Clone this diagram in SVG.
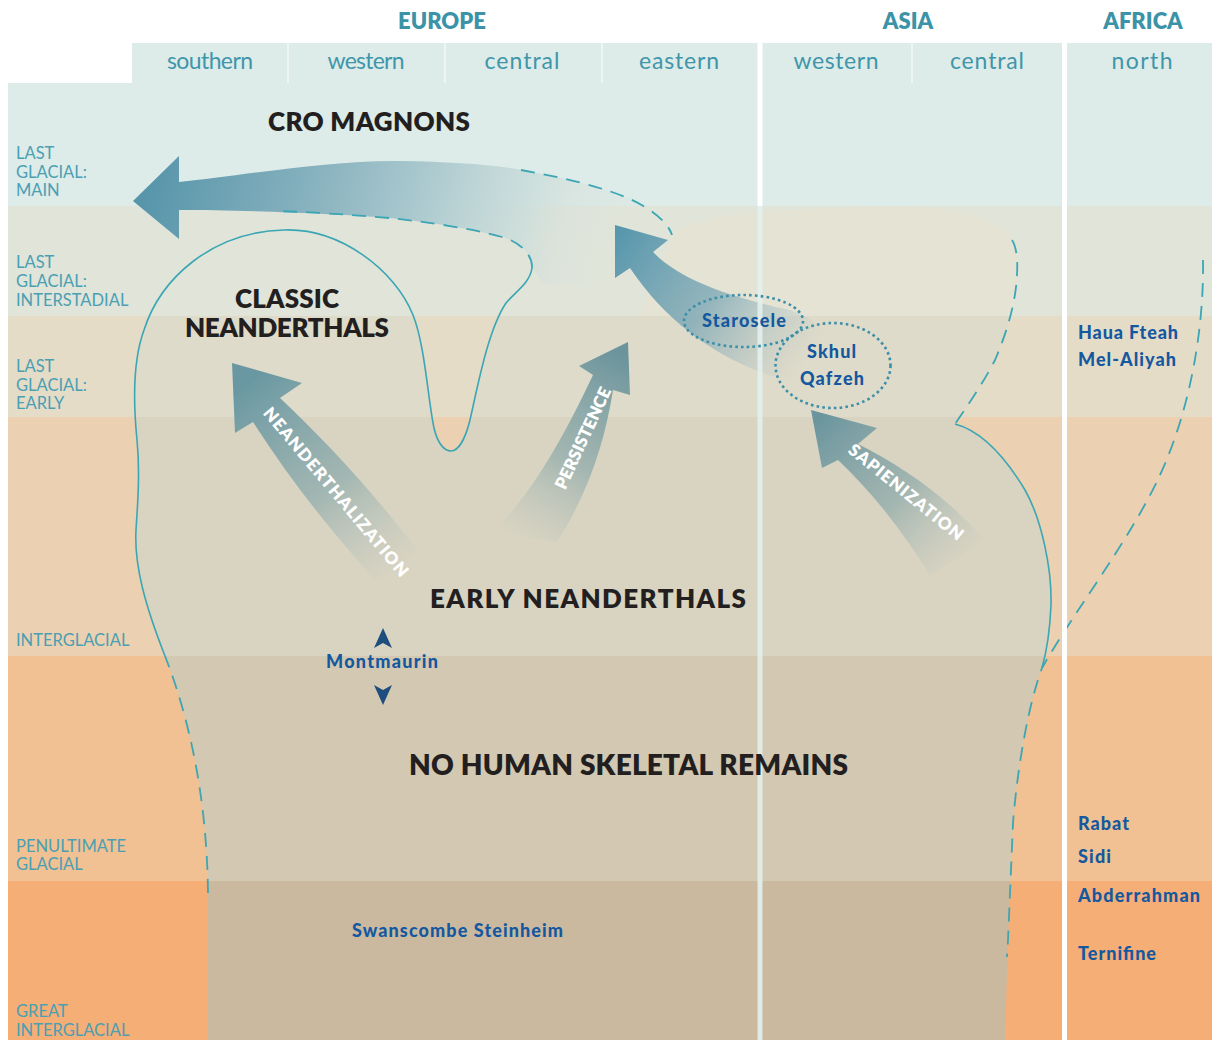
<svg xmlns="http://www.w3.org/2000/svg" width="1212" height="1040" viewBox="0 0 1212 1040">
<style>
 .hdr{font-family:Lato,'Open Sans','DejaVu Sans',sans-serif;font-weight:800;font-size:22px;fill:#3c93a8;text-anchor:middle}
 .sub{font-family:Lato,'Open Sans','DejaVu Sans',sans-serif;font-size:23px;fill:#3f96aa;text-anchor:middle}
 .per{font-family:Lato,'Open Sans','DejaVu Sans',sans-serif;font-size:16.5px;fill:#4a9fb3}
 .big{font-family:Lato,'Open Sans','DejaVu Sans',sans-serif;font-weight:800;font-size:26px;fill:#231f20;text-anchor:middle}
 .site{font-family:Lato,'Open Sans','DejaVu Sans',sans-serif;font-weight:900;font-size:18px;fill:#14589f}
 .mid{text-anchor:middle}
 .arr{font-family:Lato,'Open Sans','DejaVu Sans',sans-serif;font-weight:800;font-size:17px;fill:#ffffff;text-anchor:middle}
 .sol{fill:none;stroke:#3ba6b4;stroke-width:1.6}
 .dash{fill:none;stroke:#3ba6b4;stroke-width:1.8;stroke-dasharray:14 9}
 .dot{fill:none;stroke:#3b8fa8;stroke-width:2.6;stroke-dasharray:2.6 3.2}
 .tri{fill:#1d4e7e}
</style>
<defs>
 <clipPath id="blobClip">
  <path id="blobPath" d="M208,1040 L208,893 C207,800 190,720 165,656 C145,605 134,565 136,530 C138,500 140,470 137,440 C133,400 133,360 144,330 C160,280 210,232 284,230 C340,228 395,270 413,315 C425,345 428,400 434,428 C438,445 445,451 451,451 C458,451 465,440 470,420 C478,385 488,330 506,303 C515,292 530,283 532,268 C533,255 520,242 502,237 C470,228 420,221 389,218 C340,214 240,210 179,210 L179,239 L133,201 L179,156 L179,182 C240,176 330,160 400,161 C450,162 490,164 521,170 C560,177 600,186 630,199 C650,208 668,222 672,235 C690,222 720,214 756,212 C820,208 870,206 912,207 C960,208 995,218 1008,232 C1016,242 1018,258 1017,275 C1016,300 1008,330 995,360 C985,380 968,405 955,424 C985,432 1010,465 1025,490 C1042,520 1052,570 1051,605 C1050,630 1047,650 1042,668 C1030,700 1018,760 1013,823 L1008,940 L1005,1040 Z"/>
 </clipPath>
 <linearGradient id="gCro" gradientUnits="userSpaceOnUse" x1="138" y1="170" x2="600" y2="300">
  <stop offset="0" stop-color="#5493a9"/>
  <stop offset="0.35" stop-color="#86b1be"/>
  <stop offset="0.6" stop-color="#aecbd0"/>
  <stop offset="0.8" stop-color="#c8dcdb" stop-opacity="0.75"/>
  <stop offset="0.92" stop-color="#d6e2dd" stop-opacity="0.2"/>
  <stop offset="1" stop-color="#dce4dc" stop-opacity="0"/>
 </linearGradient>
 <linearGradient id="gUp" gradientUnits="userSpaceOnUse" x1="618" y1="235" x2="805" y2="365">
  <stop offset="0" stop-color="#5897ad"/>
  <stop offset="0.5" stop-color="#7fa9b6" stop-opacity="0.8"/>
  <stop offset="1" stop-color="#a9c1c4" stop-opacity="0"/>
 </linearGradient>
 <linearGradient id="gNea" gradientUnits="userSpaceOnUse" x1="245" y1="385" x2="395" y2="578">
  <stop offset="0" stop-color="#6a98a2"/>
  <stop offset="0.55" stop-color="#7fa3a8" stop-opacity="0.6"/>
  <stop offset="1" stop-color="#a9bbb8" stop-opacity="0"/>
 </linearGradient>
 <linearGradient id="gPer" gradientUnits="userSpaceOnUse" x1="622" y1="355" x2="520" y2="545">
  <stop offset="0" stop-color="#6b949c"/>
  <stop offset="0.55" stop-color="#80a2a5" stop-opacity="0.6"/>
  <stop offset="1" stop-color="#a9bbb8" stop-opacity="0"/>
 </linearGradient>
 <linearGradient id="gSap" gradientUnits="userSpaceOnUse" x1="818" y1="418" x2="960" y2="570">
  <stop offset="0" stop-color="#6a959e"/>
  <stop offset="0.55" stop-color="#80a2a5" stop-opacity="0.6"/>
  <stop offset="1" stop-color="#a9bbb8" stop-opacity="0"/>
 </linearGradient>
</defs>

<g id="background">
 <rect x="0" y="0" width="1212" height="1040" fill="#ffffff"/>
 <rect x="132" y="43" width="1080" height="40" fill="#ddebe9"/>
 <rect x="8" y="83" width="1204" height="123" fill="#ddebe9"/>
 <rect x="8" y="206" width="1204" height="110" fill="#e0e4d9"/>
 <rect x="8" y="316" width="1204" height="101" fill="#e5dcc8"/>
 <rect x="8" y="417" width="1204" height="239" fill="#ebd1b1"/>
 <rect x="8" y="656" width="1204" height="225" fill="#f1c193"/>
 <rect x="8" y="881" width="1204" height="159" fill="#f5ae76"/>
</g>

<g id="human-range" clip-path="url(#blobClip)">
 <rect x="0" y="83" width="1212" height="123" fill="#dce8e3"/>
 <rect x="0" y="206" width="1212" height="110" fill="#e0e4d9"/>
 <rect x="0" y="316" width="1212" height="101" fill="#dfdbca"/>
 <rect x="0" y="417" width="1212" height="239" fill="#d9d4c2"/>
 <rect x="0" y="656" width="1212" height="225" fill="#d3c8b1"/>
 <rect x="0" y="881" width="1212" height="159" fill="#cbb99f"/>
 <path d="M672,235 C690,222 720,214 756,212 C820,208 870,206 912,207 C960,208 995,218 1008,232 C1016,242 1018,258 1017,275 L1017,316 L640,316 Z" fill="#e5e3d4"/>
</g>

<g id="connectors">
 <path id="cro-stream" d="M133,201 L179,156 L179,182 C240,176 330,160 400,161 C450,162 490,164 521,170 C560,177 600,186 630,199 C650,208 668,222 672,235 L600,285 L545,285 L532,268 C533,255 520,242 502,237 C470,228 420,221 389,218 C340,214 240,210 179,210 L179,239 Z" fill="url(#gCro)"/>
 <path id="arrow-up" d="M615,225 L668,240 L653,252 C680,280 730,297 790,310 C815,318 835,335 830,355 C820,380 790,385 760,372 C710,352 665,320 630,268 L615,278 Z" fill="url(#gUp)"/>
 <path id="arrow-neanderthalization" d="M232,363 L302,383 L280,398 C330,445 380,500 425,560 L375,580 C330,530 290,480 253,422 L235,433 Z" fill="url(#gNea)"/>
 <path id="arrow-persistence" d="M628,342 L630,395 L613,390 C605,440 590,490 557,542 L493,532 C530,495 560,445 593,375 L579,366 Z" fill="url(#gPer)"/>
 <path id="arrow-sapienization" d="M811,410 L877,428 L858,444 C900,465 945,495 985,540 L930,575 C905,535 875,495 838,460 L822,468 Z" fill="url(#gSap)"/>
 <text class="arr" transform="translate(336,492) rotate(50)" x="0" y="6" textLength="215">NEANDERTHALIZATION</text>
 <text class="arr" transform="translate(583,438) rotate(-65)" x="0" y="6" textLength="110">PERSISTENCE</text>
 <text class="arr" transform="translate(906,492) rotate(39)" x="0" y="6" textLength="142">SAPIENIZATION</text>
 <path class="tri" d="M383,628 L392,648 L383,643 L374,648 Z"/>
 <path class="tri" d="M374,685 L383,690 L392,685 L383,705 Z"/>
</g>

<g id="dividers">
 <rect x="287" y="43" width="2" height="40" fill="#f2f8f7" opacity="0.8"/>
 <rect x="444" y="43" width="2" height="40" fill="#f2f8f7" opacity="0.8"/>
 <rect x="601" y="43" width="2" height="40" fill="#f2f8f7" opacity="0.8"/>
 <rect x="911" y="43" width="2" height="40" fill="#f2f8f7" opacity="0.8"/>
 <rect x="757.5" y="43" width="5" height="163" fill="#ffffff"/>
 <rect x="757.5" y="206" width="5" height="834" fill="#e2f0ed" opacity="0.9"/>
</g>

<g id="outlines">
 <path class="dash" d="M208,893 C207,800 190,720 165,656"/>
 <path class="sol" d="M165,656 C145,605 134,565 136,530 C138,500 140,470 137,440 C133,400 133,360 144,330 C160,280 210,232 284,230 C340,228 395,270 413,315 C425,345 428,400 434,428 C438,445 445,451 451,451 C458,451 465,440 470,420 C478,385 488,330 506,303 C515,292 530,283 532,268"/>
 <path class="dash" d="M532,268 C533,255 520,242 502,237 C470,228 420,221 389,218 C340,214 310,212 275,211"/>
 <path class="dash" d="M521,170 C560,177 600,186 630,199 C650,208 668,222 672,235"/>
 <path class="dash" d="M1012,240 C1016,246 1018,258 1017,275 C1016,300 1008,330 995,360 C985,380 968,405 955,424"/>
 <path class="sol" d="M955,424 C985,432 1010,465 1025,490 C1042,520 1052,570 1051,605 C1050,630 1047,650 1042,668"/>
 <path class="dash" d="M1203,260 C1204,330 1190,410 1160,475 C1130,540 1075,610 1042,668 C1030,700 1018,760 1013,823 L1008,940 L1007,957"/>
 <rect x="1062" y="43" width="5" height="997" fill="#ffffff"/>
</g>

<g id="headers">
 <text class="hdr" x="442" y="29">EUROPE</text>
 <text class="hdr" x="908" y="29">ASIA</text>
 <text class="hdr" x="1143" y="29">AFRICA</text>
 <text class="sub" x="210" y="69" textLength="86">southern</text>
 <text class="sub" x="366" y="69" textLength="77">western</text>
 <text class="sub" x="522" y="69" textLength="75">central</text>
 <text class="sub" x="679" y="69" textLength="80">eastern</text>
 <text class="sub" x="836" y="69" textLength="85">western</text>
 <text class="sub" x="987" y="69" textLength="74">central</text>
 <text class="sub" x="1142" y="69" textLength="61">north</text>
</g>

<g id="periods">
 <text class="per" x="16" y="159">LAST</text>
 <text class="per" x="16" y="178">GLACIAL:</text>
 <text class="per" x="16" y="196">MAIN</text>
 <text class="per" x="16" y="268">LAST</text>
 <text class="per" x="16" y="287">GLACIAL:</text>
 <text class="per" x="16" y="306">INTERSTADIAL</text>
 <text class="per" x="16" y="372">LAST</text>
 <text class="per" x="16" y="391">GLACIAL:</text>
 <text class="per" x="16" y="409">EARLY</text>
 <text class="per" x="16" y="646">INTERGLACIAL</text>
 <text class="per" x="16" y="852">PENULTIMATE</text>
 <text class="per" x="16" y="870">GLACIAL</text>
 <text class="per" x="16" y="1017">GREAT</text>
 <text class="per" x="16" y="1036">INTERGLACIAL</text>
</g>

<g id="cro-magnons"><text class="big" x="369" y="131" textLength="202">CRO MAGNONS</text></g>
<g id="classic-neanderthals">
 <text class="big" x="287" y="308" textLength="104">CLASSIC</text>
 <text class="big" x="287" y="337" textLength="204">NEANDERTHALS</text>
</g>
<g id="early-neanderthals"><text class="big" x="588" y="608" textLength="316">EARLY NEANDERTHALS</text></g>
<g id="no-remains"><text class="big" x="628.5" y="775" textLength="439" style="font-size:28px">NO HUMAN SKELETAL REMAINS</text></g>

<g id="starosele">
 <ellipse class="dot" cx="743.5" cy="321" rx="59.5" ry="26"/>
 <text class="site mid" x="744" y="327" textLength="84">Starosele</text>
</g>
<g id="skhul-qafzeh">
 <ellipse class="dot" cx="833" cy="365.5" rx="57.5" ry="42.5"/>
 <text class="site mid" x="831.5" y="358" textLength="49">Skhul</text>
 <text class="site mid" x="832" y="385" textLength="64">Qafzeh</text>
</g>
<g id="montmaurin"><text class="site mid" x="382" y="668" textLength="112">Montmaurin</text></g>
<g id="swanscombe"><text class="site mid" x="457.5" y="937" textLength="211">Swanscombe Steinheim</text></g>
<g id="africa-sites">
 <text class="site" x="1078" y="339" textLength="100">Haua Fteah</text>
 <text class="site" x="1078" y="366" textLength="98">Mel-Aliyah</text>
 <text class="site" x="1078" y="830" textLength="51">Rabat</text>
 <text class="site" x="1078" y="863" textLength="33">Sidi</text>
 <text class="site" x="1078" y="902" textLength="122">Abderrahman</text>
 <text class="site" x="1078" y="960" textLength="78">Ternifine</text>
</g>
</svg>
